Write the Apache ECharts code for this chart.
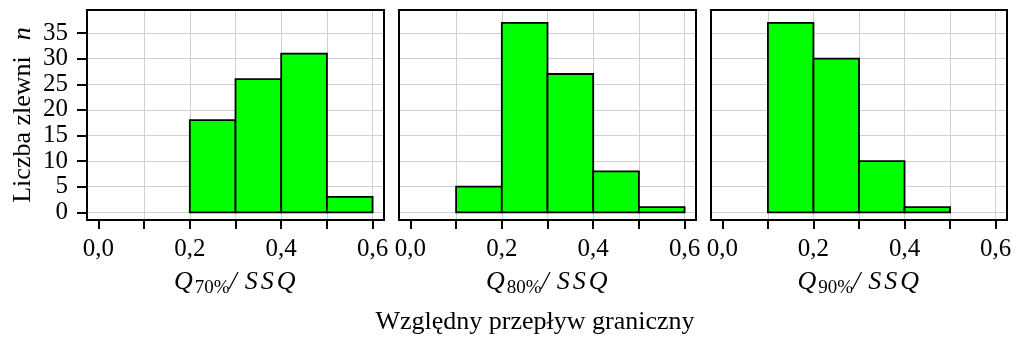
<!DOCTYPE html>
<html>
<head>
<meta charset="utf-8">
<script src="https://cdn.jsdelivr.net/npm/echarts@6/dist/echarts.min.js"></script>
<style>html,body{margin:0;padding:0;background:#fff}#c{width:1017px;height:340px}</style>
</head>
<body>
<div id="c"></div>
<script>
// ---- data ----
const binWidth = 0.1;
const binStarts70 = [0.2, 0.3, 0.4, 0.5];
const counts70    = [18, 26, 31, 3];
const binStarts80 = [0.1, 0.2, 0.3, 0.4, 0.5];
const counts80    = [5, 37, 27, 8, 1];
const binStarts90 = [0.1, 0.2, 0.3, 0.4];
const counts90    = [37, 30, 10, 1];
const xTickValues  = [0, 0.1, 0.2, 0.3, 0.4, 0.5, 0.6];
const xGridValues  = [0.1, 0.2, 0.3, 0.4, 0.5, 0.6];
const xLabelValues = [0, 0.2, 0.4, 0.6];
const yTickValues  = [0, 5, 10, 15, 20, 25, 30, 35];
const panelSubs = ['70%', '80%', '90%'];
const yTitle = 'Liczba zlewni';
const yTitleVar = 'n';
const bottomTitle = 'Względny przepływ graniczny';

const FONT = '"Liberation Serif", "DejaVu Serif", serif';
const TXT = '#000';
const panels = [
  {starts: binStarts70, counts: counts70},
  {starts: binStarts80, counts: counts80},
  {starts: binStarts90, counts: counts90}
];
const gridPos = [
  {left: 87, width: 297},
  {left: 399, width: 297},
  {left: 711, width: 296}
];

const grids = [], xAxes = [], yAxes = [], series = [];
panels.forEach((p, i) => {
  grids.push({left: gridPos[i].left, width: gridPos[i].width, top: 10, height: 210,
    show: true, borderColor: '#000', borderWidth: 2, backgroundColor: 'transparent', z: 5});
  xAxes.push({
    type: 'value', gridIndex: i, min: -0.025, max: 0.625, position: 'bottom',
    axisLine: {show: false, onZero: false},
    axisTick: {show: true, inside: false, length: 9, customValues: xTickValues,
      lineStyle: {color: '#000', width: 2}},
    axisLabel: {show: true, customValues: xLabelValues, margin: 17, color: TXT,
      fontFamily: FONT, fontSize: 25,
      formatter: v => v.toFixed(1).replace('.', ',')},
    splitLine: {show: false},
    name: '{q|Q}{s|' + panelSubs[i] + '}{t|/ }{i|S}{i|S}{i|Q}',
    nameLocation: 'middle', nameGap: 34,
    nameTextStyle: {
      rich: {
        q: {fontFamily: FONT, fontStyle: 'italic', fontSize: 26, color: TXT, lineHeight: 30, padding: [0, 2, 0, 0]},
        s: {fontFamily: FONT, fontSize: 19, color: TXT, lineHeight: 30, padding: [12, 0, 0, 0]},
        t: {fontFamily: FONT, fontStyle: 'italic', fontSize: 26, color: TXT, lineHeight: 30},
        i: {fontFamily: FONT, fontStyle: 'italic', fontSize: 26, color: TXT, lineHeight: 30, padding: [0, 1.5, 0, 1.5]}
      }
    }
  });
  xAxes.push({
    type: 'value', gridIndex: i, min: -0.025, max: 0.625, position: 'bottom',
    axisLine: {show: false, onZero: false},
    axisTick: {show: false, customValues: xGridValues},
    axisLabel: {show: false, customValues: xGridValues},
    splitLine: {show: true, lineStyle: {color: '#d0d0d0', width: 1}}
  });
  yAxes.push({
    type: 'value', gridIndex: i, min: -1.5, max: 39.5,
    axisLine: {show: false, onZero: false},
    axisTick: {show: i === 0, inside: false, length: 10, customValues: yTickValues,
      lineStyle: {color: '#000', width: 2}},
    axisLabel: {show: i === 0, customValues: yTickValues, margin: 19, color: TXT,
      fontFamily: FONT, fontSize: 25},
    splitLine: {show: true, lineStyle: {color: '#d0d0d0', width: 1}},
    name: i === 0 ? yTitle + '{n|' + yTitleVar + '}' : '',
    nameLocation: 'middle', nameRotate: 90, nameGap: 51,
    nameTextStyle: {fontFamily: FONT, fontSize: 26, color: TXT,
      rich: {n: {fontFamily: FONT, fontSize: 26, fontStyle: 'italic', color: TXT, padding: [0, 0, 0, 16]}}}
  });
  series.push({
    type: 'custom', xAxisIndex: 2 * i, yAxisIndex: i, z: 3,
    data: p.starts.map((s, k) => [s, s + binWidth, p.counts[k]]),
    encode: {x: [0, 1], y: 2},
    renderItem: function (params, api) {
      const a = api.coord([api.value(0), api.value(2)]);
      const b = api.coord([api.value(1), 0]);
      return {type: 'rect',
        shape: {x: a[0], y: a[1], width: b[0] - a[0], height: b[1] - a[1]},
        style: {fill: '#00ff00', stroke: '#000', lineWidth: 1.8}};
    }
  });
});

const chart = echarts.init(document.getElementById('c'), null, {renderer: 'canvas'});
chart.setOption({
  animation: false,
  backgroundColor: '#fff',
  grid: grids, xAxis: xAxes, yAxis: yAxes, series: series,
  graphic: [{type: 'text', x: 535, y: 322, z: 10,
    style: {text: bottomTitle, fontFamily: FONT, fontSize: 26, fill: TXT,
      textAlign: 'center', textVerticalAlign: 'middle'}}]
});
</script>
</body>
</html>
